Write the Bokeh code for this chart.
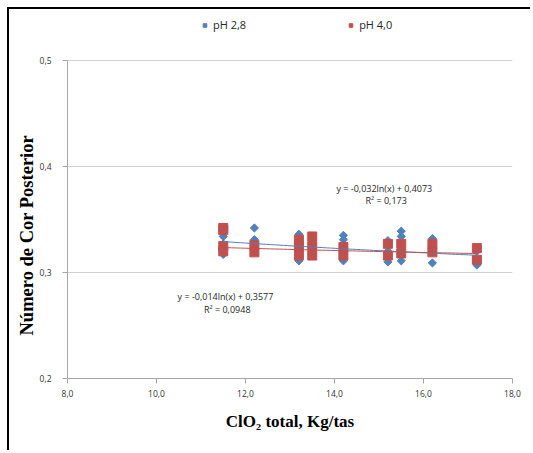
import numpy as np
from bokeh.plotting import figure
from bokeh.models import Range1d, FixedTicker, Legend, LegendItem, Label, Title
from bokeh.embed import file_html
from bokeh.resources import INLINE

# Axis ticks and their comma-decimal labels
x_ticks = [8, 10, 12, 14, 16, 18]
x_tick_labels = ["8,0", "10,0", "12,0", "14,0", "16,0", "18,0"]
y_ticks = [0.2, 0.3, 0.4, 0.5]
y_tick_labels = ["0,2", "0,3", "0,4", "0,5"]

# pH 2,8 series (ClO2 total vs Número de Cor Posterior)
ph28_x = [11.5, 11.5, 11.5,
          12.2, 12.2, 12.2,
          13.2, 13.2, 13.2,
          13.5, 13.5, 13.5,
          14.2, 14.2, 14.2,
          15.2, 15.2, 15.2,
          15.5, 15.5, 15.5,
          16.2, 16.2, 16.2,
          17.2, 17.2, 17.2]
ph28_y = [0.334, 0.327, 0.317,
          0.342, 0.331, 0.322,
          0.336, 0.324, 0.311,
          0.327, 0.322, 0.318,
          0.335, 0.331, 0.311,
          0.330, 0.320, 0.310,
          0.339, 0.334, 0.311,
          0.332, 0.322, 0.309,
          0.320, 0.312, 0.307]

# pH 4,0 series
ph40_x = [11.5, 11.5, 11.5, 11.5,
          12.2, 12.2,
          13.2, 13.2, 13.2,
          13.5, 13.5, 13.5,
          14.2, 14.2,
          15.2, 15.2,
          15.5, 15.5,
          16.2, 16.2,
          17.2, 17.2]
ph40_y = [0.342, 0.340, 0.325, 0.320,
          0.326, 0.319,
          0.331, 0.324, 0.316,
          0.334, 0.325, 0.316,
          0.324, 0.316,
          0.327, 0.316,
          0.327, 0.318,
          0.327, 0.319,
          0.323, 0.312]

# Logarithmic trendlines: y = a*ln(x) + b, with R²
trend_ph28 = {"a": -0.032, "b": 0.4073, "r2": 0.173}
trend_ph40 = {"a": -0.014, "b": 0.3577, "r2": 0.0948}

BLUE = "#4F81BD"
RED = "#C0504D"
GRID = "#D0D0D0"
AXIS = "#A6A6A6"
TICK_FONT = "Open Sans"
TITLE_FONT = "Liberation Serif"


def comma(v, fmt):
    return format(v, fmt).replace(".", ",")


def trend_text(t):
    eq = f"y = {comma(t['a'], '.3f')}ln(x) + {comma(t['b'], '.4f')}"
    r2 = f"R² = {comma(t['r2'], 'g')}"
    return eq, r2


# The frame reaches the top of the canvas so the legend can sit above 0,5;
# the value axis itself is bounded to 0,2 .. 0,5.
p = figure(width=523, height=443,
           x_range=Range1d(8, 18), y_range=Range1d(0.2, 0.5481),
           output_backend="svg", toolbar_location=None,
           min_border_left=58, min_border_right=20,
           min_border_top=0, min_border_bottom=74)
p.margin = (9, 0, 0, 9)
p.styles = {"box-shadow": "-2px -2px 0 0 #000000"}
p.outline_line_color = None
p.background_fill_color = "white"
p.border_fill_color = "white"

# Grid: horizontal lines only
p.xgrid.visible = False
p.ygrid.ticker = FixedTicker(ticks=y_ticks)
p.ygrid.grid_line_color = GRID

# Axes
p.xaxis.ticker = FixedTicker(ticks=x_ticks)
p.xaxis.major_label_overrides = dict(zip(x_ticks, x_tick_labels))
p.yaxis.ticker = FixedTicker(ticks=y_ticks)
p.yaxis.major_label_overrides = dict(zip(y_ticks, y_tick_labels))
p.yaxis.bounds = (0.2, 0.5)
for ax in (p.xaxis[0], p.yaxis[0]):
    ax.axis_line_color = AXIS
    ax.major_tick_line_color = AXIS
    ax.minor_tick_line_color = None
    ax.major_tick_in = 0
    ax.major_tick_out = 5
    ax.major_label_text_font = TICK_FONT
    ax.major_label_text_font_size = "8.5px"
    ax.major_label_text_color = "#333333"
p.yaxis.major_label_standoff = 11
p.xaxis.major_label_standoff = 6

p.xaxis.axis_label = "ClO₂ total, Kg/tas"
p.xaxis.axis_label_text_font = TITLE_FONT
p.xaxis.axis_label_text_font_style = "bold"
p.xaxis.axis_label_text_font_size = "17px"
p.xaxis.axis_label_text_color = "black"
p.xaxis.axis_label_standoff = 12

# Y title as a side-panel title, shifted along the axis from the bottom
p.add_layout(Title(text="Número de Cor Posterior", align="left", offset=43,
                   standoff=0, text_font=TITLE_FONT, text_font_style="bold",
                   text_font_size="18.5px", text_color="black"), "left")

# Markers
r28 = p.scatter(ph28_x, ph28_y, marker="square", angle=np.pi / 4, size=5.8,
                fill_color=BLUE, line_color=BLUE)
r40 = p.scatter(ph40_x, ph40_y, marker="square", size=9,
                fill_color=RED, line_color=RED)

# Trendlines from the fitted equations
for xs_src, t, col in ((ph28_x, trend_ph28, BLUE), (ph40_x, trend_ph40, RED)):
    xs = np.linspace(min(xs_src), max(xs_src), 60)
    p.line(xs, t["a"] * np.log(xs) + t["b"], line_color=col, line_width=1)

# Trendline equation labels
for t, cx, cy in ((trend_ph28, 15.12, 0.3792), (trend_ph40, 11.55, 0.2769)):
    eq, r2 = trend_text(t)
    p.add_layout(Label(x=cx, y=cy, text=eq, text_align="center",
                       text_baseline="middle", text_font=TICK_FONT,
                       text_font_size="9px", text_color="#262626"))
    p.add_layout(Label(x=cx + 0.04, y=cy - 0.0117, text=r2, text_align="center",
                       text_baseline="middle", text_font=TICK_FONT,
                       text_font_size="9px", text_color="#262626"))

legend = Legend(items=[LegendItem(label="pH 2,8", renderers=[r28]),
                       LegendItem(label="pH 4,0", renderers=[r40])],
                location=(133, 346), orientation="horizontal",
                padding=0, margin=0, spacing=100,
                glyph_width=9, glyph_height=14, label_height=14,
                label_standoff=4, border_line_color=None,
                background_fill_alpha=0,
                label_text_font=TICK_FONT, label_text_font_size="11px",
                label_text_color="#262626")
p.add_layout(legend)

open("out.html", "w").write(file_html(p, INLINE))
